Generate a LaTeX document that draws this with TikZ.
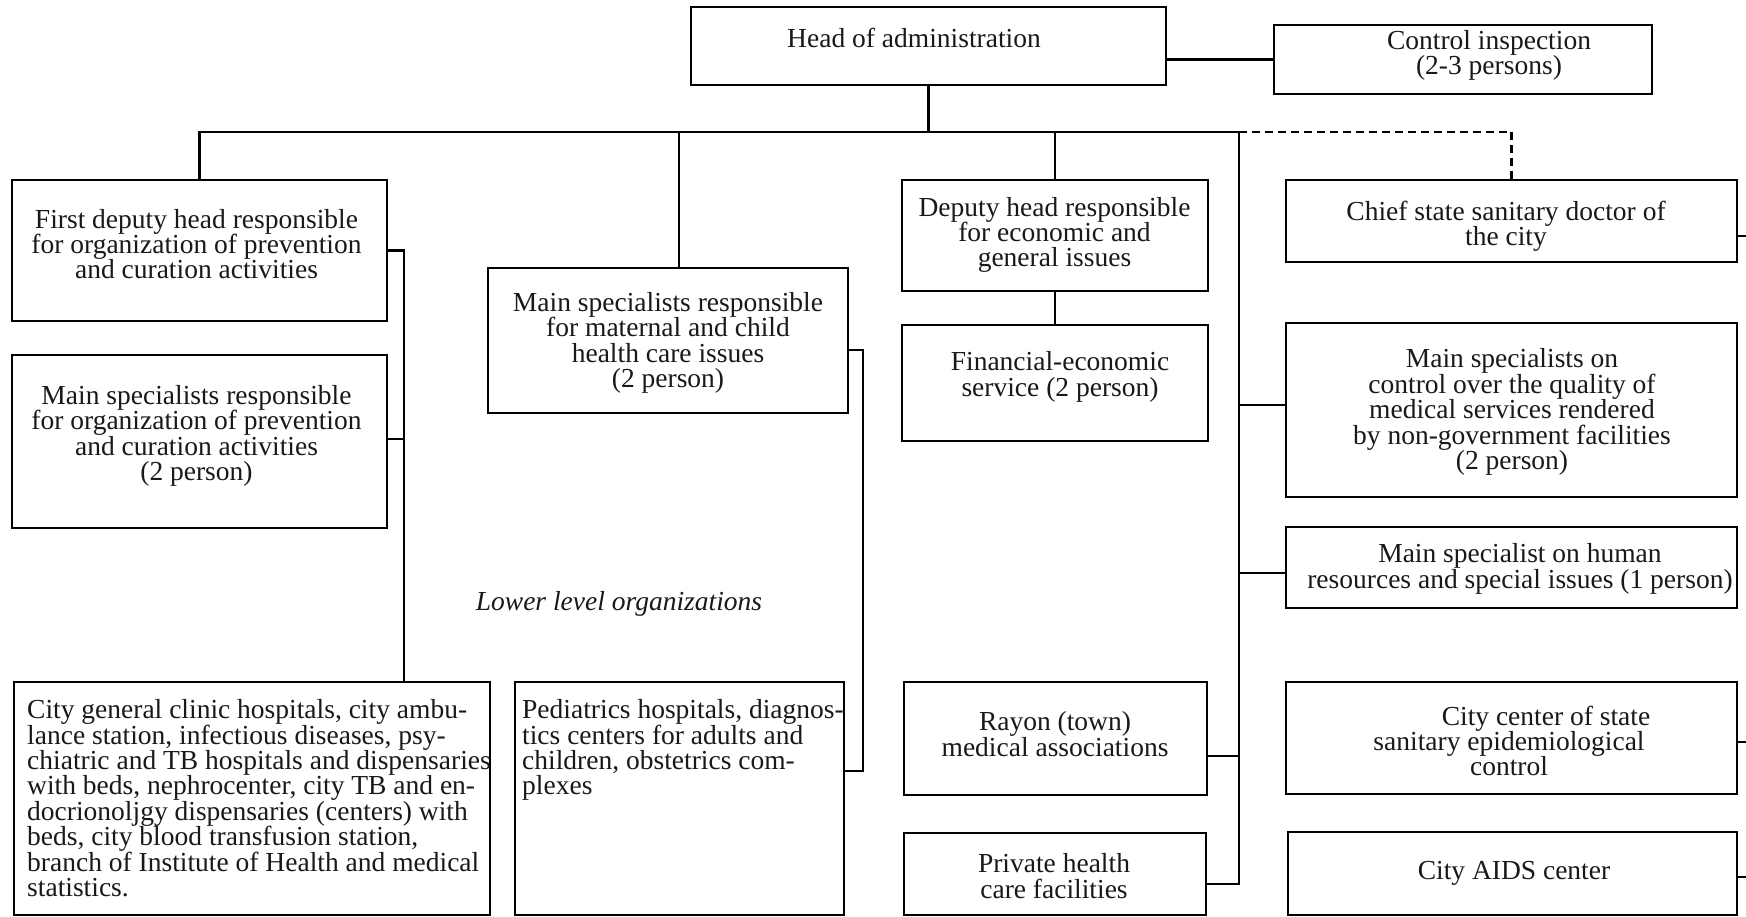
\documentclass[tikz,border=0pt]{standalone}
\usepackage{fontspec}
\setmainfont{Liberation Serif}
\begin{document}
\begin{tikzpicture}[x=1pt,y=-1pt,
  box/.style={draw=black, line width=2.3pt, inner sep=0pt, rectangle},
  conn/.style={draw=black, line width=2.3pt},
  link/.style={conn, dash pattern=on 8pt off 5pt},
  lbl/.style={inner sep=0pt, align=center, text=black!90,
              font=\fontsize{27.5}{25.4}\selectfont},
  lbll/.style={lbl, align=left, anchor=north west}]
\useasboundingbox[fill=white] (0,0) rectangle (1746,917);

% ---- boxes ----
\node[box, minimum width=475pt, minimum height=78pt]  (head)  at (928.5,46)   {};
\node[box, minimum width=378pt, minimum height=69pt]  (ctrl)  at (1463,59.5)  {};
\node[box, minimum width=375pt, minimum height=141pt] (fd)    at (199.5,250.5){};
\node[box, minimum width=375pt, minimum height=173pt] (mp)    at (199.5,441.5){};
\node[box, minimum width=360pt, minimum height=145pt] (mc)    at (668,340.5)  {};
\node[box, minimum width=306pt, minimum height=111pt] (dh)    at (1055,235.5) {};
\node[box, minimum width=306pt, minimum height=116pt] (fin)   at (1055,383)   {};
\node[box, minimum width=451pt, minimum height=82pt]  (chief) at (1511.5,221) {};
\node[box, minimum width=451pt, minimum height=174pt] (qc)    at (1511.5,410) {};
\node[box, minimum width=451pt, minimum height=81pt]  (hr)    at (1511.5,567.5){};
\node[box, minimum width=451pt, minimum height=112pt] (sse)   at (1511.5,738) {};
\node[box, minimum width=449pt, minimum height=83pt]  (aids)  at (1512.5,873.5){};
\node[box, minimum width=303pt, minimum height=113pt] (ray)   at (1055.5,738.5){};
\node[box, minimum width=302pt, minimum height=82pt]  (priv)  at (1055,874)   {};
\node[box, minimum width=476pt, minimum height=233pt] (cg)    at (252,798.5)  {};
\node[box, minimum width=329pt, minimum height=233pt] (ped)   at (679.5,798.5){};

% ---- texts ----
\node[lbl] (headt)  at (914,38)     {Head of administration};
\node[lbl] (ctrlt)  at (1489,55.5)  {Control inspection\\(2-3 persons)};
\node[lbl] (fdt)    at (196.5,244)  {First deputy head responsible\\for organization of prevention\\and curation activities};
\node[lbl] (mpt)    at (196.5,436)  {Main specialists responsible\\for organization of prevention\\and curation activities\\(2 person)};
\node[lbl] (mct)    at (668,343)    {Main specialists responsible\\for maternal and child\\health care issues\\(2 person)};
\node[lbl] (dht)    at (1054.5,235) {Deputy head responsible\\for economic and\\general issues};
\node[lbl] (fint)   at (1060,377)   {Financial-economic\\service (2 person)};
\node[lbl] (chieft) at (1506,226)   {Chief state sanitary doctor of\\the city};
\node[lbl] (qct)    at (1512,412)   {Main specialists on\\control over the quality of\\medical services rendered\\by non-government facilities\\(2 person)};
\node[lbl] (hrt)    at (1520,569)   {Main specialist on human\\resources and special issues (1 person)};
\node[lbl] (sset)   at (1509,741)   {\hspace*{74pt}City center of state\\sanitary epidemiological\\control};
\node[lbl] (aidst)  at (1514,873)   {City AIDS center};
\node[lbl] (rayt)   at (1055,734)   {Rayon (town)\\medical associations};
\node[lbl] (privt)  at (1054,876)   {Private health\\care facilities};
\node[lbl, font=\fontsize{27.5}{25.4}\selectfont\itshape] (lowt) at (619,604) {Lower level organizations};
\node[lbll] (cgt)  at (27,699.5)  {City general clinic hospitals, city ambu-\\lance station, infectious diseases, psy-\\chiatric and TB hospitals and dispensaries\\with beds, nephrocenter, city TB and en-\\docrionoljgy dispensaries (centers) with\\beds, city blood transfusion station,\\branch of Institute of Health and medical\\statistics.};
\node[lbll] (pedt) at (522,699.5) {Pediatrics hospitals, diagnos-\\tics centers for adults and\\children, obstetrics com-\\plexes};

% ---- connectors ----
\coordinate (trunk) at (1239,132);
\draw[conn] (ctrl.west) -- (ctrl.west -| head.east);
\draw[conn] (head.south) -- (head.south |- trunk);
\draw[conn] (fd.north) |- (trunk);
\path ([xshift=11pt]mc.north) coordinate (mcn);
\draw[conn] (mcn) -- (mcn |- trunk);
\draw[conn] (dh.north) -- (dh.north |- trunk);
\draw[conn] (dh.south) -- (fin.north);
\draw[link] (trunk) -| (chief.north);

% long vertical to the lower-level organizations and specialists
\path ([yshift=-10pt]priv.east) coordinate (privp);
\draw[conn] (trunk) |- (privp);
\path ([yshift=-17.5pt]ray.east) coordinate (rayp);
\draw[conn] (rayp) -- (rayp -| trunk);
\path ([yshift=5pt]qc.west) coordinate (qcp);
\draw[conn] (qcp) -- (qcp -| trunk);
\path ([yshift=-5.5pt]hr.west) coordinate (hrp);
\draw[conn] (hrp) -- (hrp -| trunk);

% left bracket
\draw[conn] (fd.east) -- ++(16,0) coordinate (lb) -- (lb |- cg.north);
\path ([yshift=2.5pt]mp.east) coordinate (mpp);
\draw[conn] (mpp) -- (mpp -| lb);

% middle bracket
\path ([yshift=-9.5pt]mc.east) coordinate (mcp);
\path ([yshift=27.5pt]ped.east) coordinate (pedp);
\draw[conn] (mcp) -- ++(14,0) coordinate (mb) |- (pedp);

% stubs leaving to the right
\draw[conn] ([yshift=-15pt]chief.east) -- ++(12,0);
\draw[conn] ([yshift=-4pt]sse.east) -- ++(12,0);
\draw[conn] ([yshift=-3.5pt]aids.east) -- ++(12,0);
\end{tikzpicture}
\end{document}
